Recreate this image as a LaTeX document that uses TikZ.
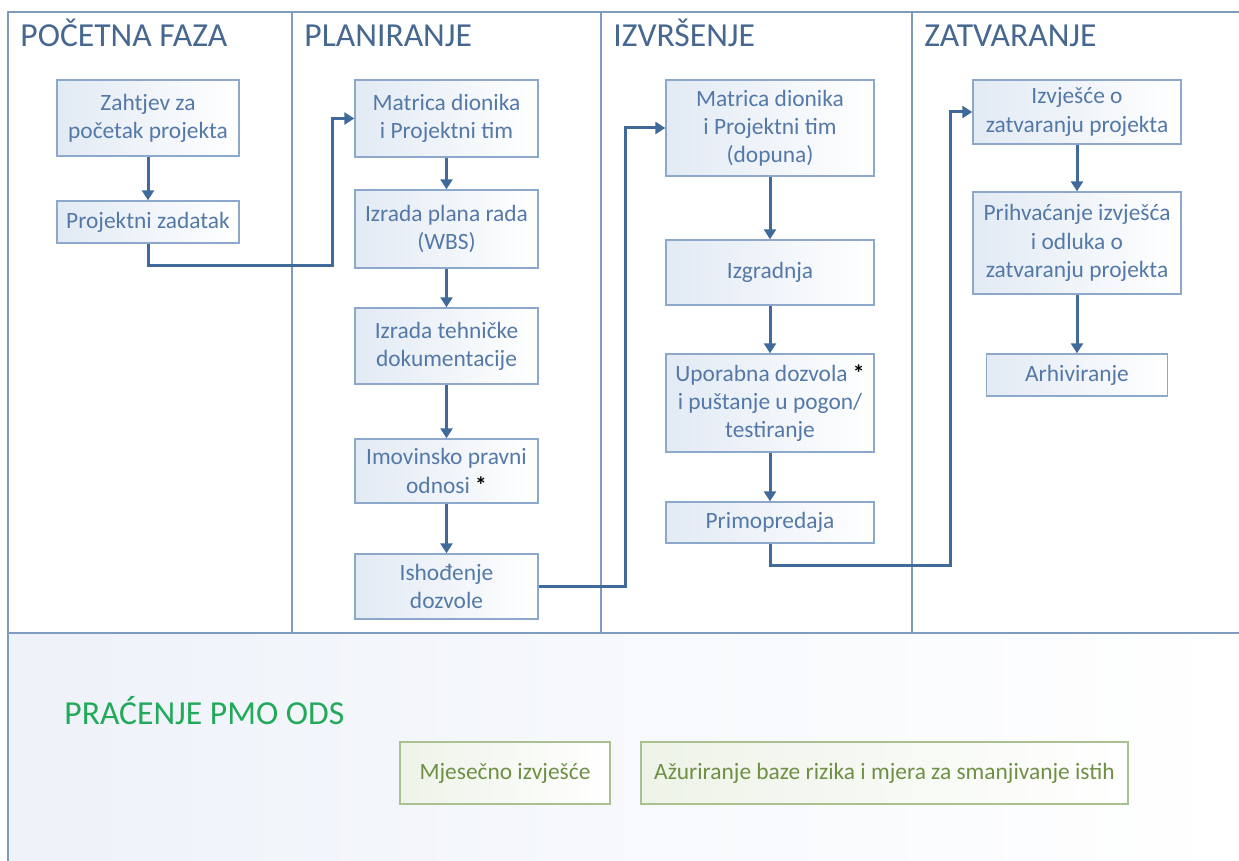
\documentclass[tikz,border=0pt]{standalone}
\usepackage{fontspec}
\setmainfont{Carlito}
\usepackage{xcolor}
\usetikzlibrary{arrows.meta,calc}
\definecolor{frame}{HTML}{7F9BBE}
\definecolor{ttlblue}{HTML}{46678F}
\definecolor{boxline}{HTML}{8DA8CB}
\definecolor{boxsoft}{HTML}{E2EAF4}
\definecolor{boxtext}{HTML}{5479A8}
\definecolor{flow}{HTML}{3F6A9A}
\definecolor{panel}{HTML}{EEF2F9}
\definecolor{pmo}{HTML}{22A95A}
\definecolor{monline}{HTML}{A9C190}
\definecolor{monsoft}{HTML}{EEF3E8}
\definecolor{montext}{HTML}{6F8F45}
\newcommand{\upx}{0.5pt}
\newcommand{\zvj}{\textcolor{black}{\textbf{*}}}
\tikzset{
  frm/.style  ={draw=frame, line width=0.55pt},
  stg/.style  ={draw=boxline, line width=0.7pt, left color=boxsoft, right color=white,
                align=center, font=\fontsize{11.7}{14.1}\selectfont, text=boxtext, inner sep=2pt},
  mon/.style  ={draw=monline, line width=0.8pt, left color=monsoft, right color=white,
                align=center, font=\fontsize{11.7}{14.1}\selectfont, text=montext, inner sep=2pt},
  fl/.style   ={draw=flow, line width=1.5pt, -{Triangle[length=5pt,width=6pt]}},
  ttl/.style  ={font=\fontsize{16.8}{20}\selectfont, text=ttlblue, inner sep=0pt},
  gttl/.style ={font=\fontsize{16.8}{20}\selectfont, text=pmo, inner sep=0pt},
}

\begin{document}
\begin{tikzpicture}[x=0.5pt,y=-0.5pt]
  \useasboundingbox (0,0) rectangle (1239,861);
  % lower band, then the frame
  \fill[left color=panel, right color=white] (8,633) rectangle (1239,861);
  \draw[frm] (8,861) |- (1239,12);
  \draw[frm] (8,633) -- (1239,633);
  \foreach \x in {292,601,912}
    \draw[frm] (\x,12) -- (\x,633);
  \foreach \x/\t in {8/POČETNA FAZA, 292/PLANIRANJE, 601/IZVRŠENJE, 912/ZATVARANJE}
    \node[ttl,anchor=base west] (t\x) at (\x+12,47) {\t};

  % column 1
  \node[stg,minimum width=182*\upx,minimum height=76*\upx] (a0) at (148,118) {Zahtjev za\\početak projekta};
  \node[stg,minimum width=182*\upx,minimum height=42*\upx] (a1) at (148,222) {Projektni zadatak};
  \draw[fl] (a0.south) -- (a1.north);

  % column 2
  \foreach \i/\y/\h/\txt in {0/118.5/77/{Matrica dionika\\i Projektni tim},
                             1/229/78/{Izrada plana rada\\(WBS)},
                             2/346/76/{Izrada tehničke\\dokumentacije},
                             3/471/64/{Imovinsko pravni\\odnosi \zvj},
                             4/586.5/65/{Ishođenje\\dozvole}}
    \node[stg,minimum width=183*\upx,minimum height=\h*\upx] (b\i) at (446.5,\y) {\txt};
  \foreach \i in {0,1,2,3}{
    \pgfmathtruncatemacro{\nx}{\i+1}
    \draw[fl] (b\i.south) -- (b\nx.north);
  }

  % column 3
  \foreach \i/\y/\h/\txt in {0/128/96/{Matrica dionika\\i Projektni tim\\(dopuna)},
                             1/272.5/65/{Izgradnja},
                             2/403/98/{Uporabna dozvola \zvj\\i puštanje u pogon/\\testiranje},
                             3/522.5/41/{Primopredaja}}
    \node[stg,minimum width=208*\upx,minimum height=\h*\upx] (c\i) at (770,\y) {\txt};
  \foreach \i in {0,1,2}{
    \pgfmathtruncatemacro{\nx}{\i+1}
    \draw[fl] (c\i.south) -- (c\nx.north);
  }

  % column 4
  \node[stg,minimum width=208*\upx,minimum height=64*\upx] (d0) at (1077,112) {Izvješće o\\zatvaranju projekta};
  \node[stg,minimum width=208*\upx,minimum height=102*\upx] (d1) at (1077,243) {Prihvaćanje izvješća\\i odluka o\\zatvaranju projekta};
  \node[stg,minimum width=181*\upx,minimum height=42*\upx] (d2) at (1077,375) {Arhiviranje};
  \draw[fl] (d0.south) -- (d1.north);
  \draw[fl] (d1.south) -- (d2.north);

  % hand-overs between phases
  \coordinate (k0) at (332,266);
  \coordinate (k1) at (625,586.5);
  \coordinate (k2) at (950,566);
  \draw[fl] (a1.south) |- (k0) |- (b0.west);
  \draw[fl] (b4.east) -- (k1) |- (c0.west);
  \draw[fl] (c3.south) |- (k2) |- (d0.west);

  % monitoring band
  \node[gttl,anchor=base west] (pmo) at (64,725) {PRAĆENJE PMO ODS};
  \node[mon,minimum width=210*\upx,minimum height=62*\upx] (m0) at (505,773) {Mjesečno izvješće};
  \node[mon,minimum width=487*\upx,minimum height=62*\upx] (m1) at (884.5,773) {Ažuriranje baze rizika i mjera za smanjivanje istih};
\end{tikzpicture}
\end{document}
